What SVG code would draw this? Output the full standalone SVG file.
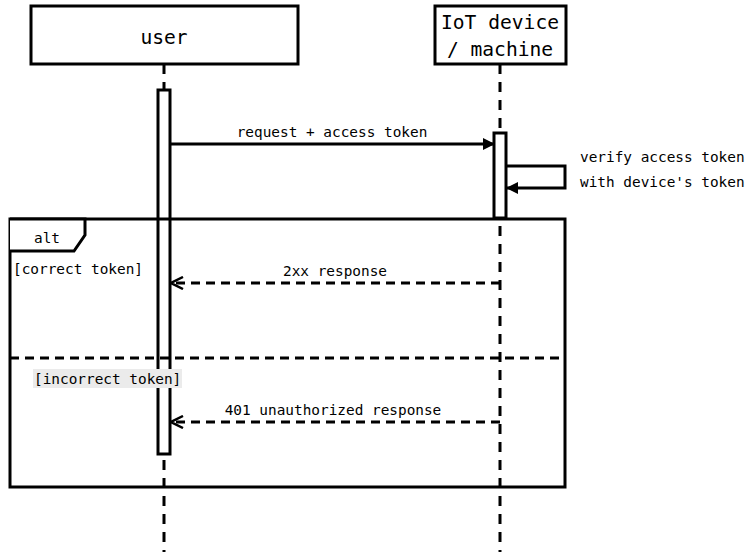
<svg xmlns="http://www.w3.org/2000/svg" width="749" height="552" viewBox="0 0 749 552">
  <style>
    text { font-family: "DejaVu Sans Mono", "Liberation Mono", monospace; fill: #000; }
    .head { font-size: 19.6px; text-anchor: middle; }
    .lbl { font-size: 14.4px; }
    .mid { text-anchor: middle; }
    .box { fill: #fff; stroke: #000; stroke-width: 3; }
    .life { stroke: #000; stroke-width: 3; stroke-dasharray: 10 8; fill: none; }
    .msg { stroke: #000; stroke-width: 3; fill: none; }
    .ret { stroke: #000; stroke-width: 3; fill: none; stroke-dasharray: 9 6; }
  </style>
  <defs>
    <marker id="solid" markerWidth="12" markerHeight="12" refX="11" refY="6" orient="auto" markerUnits="userSpaceOnUse">
      <path d="M0,0 L12,6 L0,12 Z" fill="#000"/>
    </marker>
    <marker id="open" markerWidth="14" markerHeight="14" refX="13" refY="7" orient="auto" markerUnits="userSpaceOnUse">
      <path d="M1,1 L13,7 L1,13" fill="none" stroke="#000" stroke-width="2.5"/>
    </marker>
  </defs>
  <rect width="749" height="552" fill="#fff"/>

  <!-- lifelines -->
  <g id="lifelines">
    <line class="life" x1="164" y1="64" x2="164" y2="552"/>
    <line class="life" x1="500" y1="64" x2="500" y2="552"/>
  </g>

  <!-- participants -->
  <g id="user">
    <rect class="box" x="31" y="6" width="267" height="58"/>
    <text class="head" x="164" y="44">user</text>
  </g>
  <g id="device">
    <rect class="box" x="435" y="6" width="131" height="58"/>
    <text class="head" x="500" y="29">IoT device</text>
    <text class="head" x="500" y="56">/ machine</text>
  </g>

  <!-- activations -->
  <g id="user-activation">
    <rect class="box" x="158" y="90" width="12" height="364"/>
  </g>
  <g id="device-activation">
    <rect class="box" x="494" y="133" width="12" height="85"/>
  </g>

  <!-- alt frame -->
  <g id="alt-frame">
    <rect x="10" y="219" width="555" height="268" fill="none" stroke="#000" stroke-width="3"/>
    <path d="M10,219 H85 V235 L74,251 H10" fill="#fff" stroke="#000" stroke-width="3"/>
    <text class="lbl mid" x="47" y="243">alt</text>
    <text class="lbl" x="13" y="274">[correct token]</text>
    <line class="ret" x1="10" y1="358" x2="565" y2="358"/>
    <rect x="33" y="369" width="149" height="19" fill="#ebebeb"/>
    <text class="lbl" x="34" y="384">[incorrect token]</text>
  </g>

  <!-- messages -->
  <g id="connectors">
    <line class="msg" x1="170" y1="144" x2="494" y2="144" marker-end="url(#solid)"/>
    <text class="lbl mid" x="332" y="137">request + access token</text>

    <path class="msg" d="M506,166 H565 V188 H507" marker-end="url(#solid)"/>
    <text class="lbl" x="580" y="162">verify access token</text>
    <text class="lbl" x="580" y="187">with device's token</text>

    <line class="ret" x1="500" y1="283" x2="171" y2="283" marker-end="url(#open)"/>
    <text class="lbl mid" x="335" y="276">2xx response</text>

    <line class="ret" x1="500" y1="422" x2="171" y2="422" marker-end="url(#open)"/>
    <text class="lbl mid" x="333" y="415">401 unauthorized response</text>
  </g>
</svg>
